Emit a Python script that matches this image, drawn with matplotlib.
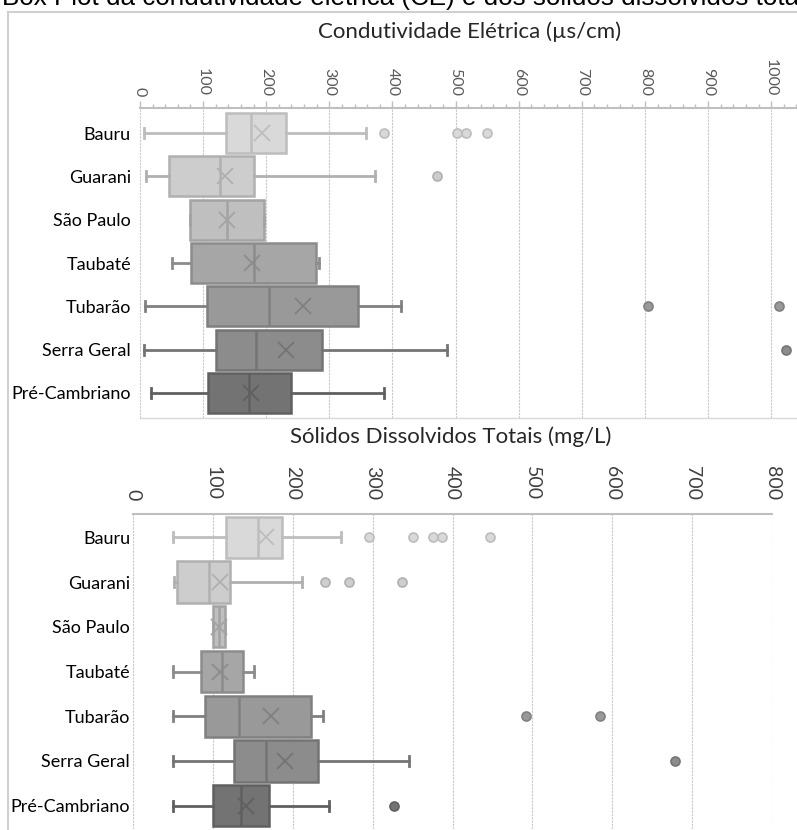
import matplotlib
matplotlib.use("Agg")
import matplotlib.pyplot as plt
from matplotlib.ticker import MultipleLocator
from matplotlib.lines import Line2D

categories = ['Bauru', 'Guarani', 'São Paulo', 'Taubaté', 'Tubarão', 'Serra Geral', 'Pré-Cambriano']

# Condutividade elétrica (µs/cm)
ce_min = [6, 9, 79, 51, 8, 6, 17]
ce_q1 = [136, 46, 79, 81, 106, 120, 107]
ce_med = [176, 127, 138, 181, 205, 184, 172]
ce_mean = [194, 135, 138, 178, 258, 231, 176]
ce_q3 = [232, 181, 197, 279, 346, 288, 240]
ce_max = [358, 372, 197, 284, 413, 486, 386]
ce_out = [[387, 502, 517, 550], [471], [], [], [805, 1012], [1024], []]

# Sólidos dissolvidos totais (mg/L)
std_min = [50, 51, 100, 50, 50, 50, 50]
std_q1 = [116, 55, 100, 85, 90, 126, 100]
std_med = [156, 95, 108, 112, 133, 166, 135]
std_mean = [166, 109, 107.5, 109, 173, 190, 141]
std_q3 = [187, 122, 115, 137.5, 222.5, 232, 170]
std_max = [260, 211, 115, 151, 238, 345, 245]
std_out = [[295, 350, 376, 387, 447], [240, 270, 337], [], [], [492, 585], [678], [327]]

fills = ['#d9d9d9', '#cdcdcd', '#bfbfbf', '#a6a6a6', '#999999', '#8c8c8c', '#737373']
edges = ['#bdbdbd', '#b0b0b0', '#a3a3a3', '#8c8c8c', '#808080', '#747474', '#606060']

W, H = 797, 830
FONT = 'Lato'


def make_stats(lo, q1, med, mean, q3, hi, out):
    stats = []
    for i, name in enumerate(categories):
        stats.append(dict(label=name, whislo=lo[i], q1=q1[i], med=med[i],
                          mean=mean[i], q3=q3[i], whishi=hi[i], fliers=out[i]))
    return stats


def draw(ax, stats, capw):
    r = ax.bxp(stats, positions=range(len(stats)), widths=0.92,
               orientation='horizontal', patch_artist=True, showmeans=True,
               capwidths=capw)
    for i in range(len(stats)):
        r['boxes'][i].set(facecolor=fills[i], edgecolor=edges[i], linewidth=1.8)
        r['medians'][i].set(color=edges[i], linewidth=1.8)
        for ln in r['whiskers'][2 * i:2 * i + 2] + r['caps'][2 * i:2 * i + 2]:
            ln.set(color=edges[i], linewidth=2)
        r['means'][i].set(marker='x', markersize=11, markeredgewidth=1.3,
                          markeredgecolor=edges[i], linestyle='none')
        r['fliers'][i].set(marker='o', markersize=6.5, markerfacecolor=fills[i],
                           markeredgecolor=edges[i], markeredgewidth=1.2)
    ax.set_yticks(range(len(stats)))
    ax.set_yticklabels(categories, fontsize=13, family=FONT, color='black')
    ax.grid(axis='x', which='major', color='#c8c8c8', linestyle=(0, (2, 1)), linewidth=0.8)
    ax.set_axisbelow(True)
    ax.xaxis.set_major_locator(MultipleLocator(100))
    ax.xaxis.tick_top()
    for s in ['left', 'right', 'bottom']:
        ax.spines[s].set_visible(False)
    ax.spines['top'].set(color='#bfbfbf', linewidth=1.5)


fig = plt.figure(figsize=(W / 100, H / 100), dpi=100)

# condutividade
ax1 = fig.add_axes([140 / W, 1 - 418 / H, (W - 140) / W, 310 / H])
draw(ax1, make_stats(ce_min, ce_q1, ce_med, ce_mean, ce_q3, ce_max, ce_out), 0.23)
ax1.set_xlim(0, 1041)
ax1.set_ylim(6.58, -0.58)
ax1.xaxis.set_minor_locator(MultipleLocator(20))
ax1.tick_params(axis='x', which='major', direction='out', length=5, width=1, color='#bfbfbf',
                pad=3.5, labelsize=11.5, labelcolor='#595959', labelrotation=-90)
ax1.tick_params(axis='x', which='minor', direction='out', length=3, width=1, color='#bfbfbf')
ax1.tick_params(axis='y', length=0, pad=6.5)
ax1.spines['bottom'].set_visible(True)
ax1.spines['bottom'].set(color='#d9d9d9', linewidth=1)
for t in ax1.get_xticklabels():
    t.set_family(FONT)

# sólidos dissolvidos
ax2 = fig.add_axes([133 / W, 1 - 829 / H, (772 - 133) / W, 315 / H])
draw(ax2, make_stats(std_min, std_q1, std_med, std_mean, std_q3, std_max, std_out), 0.23)
ax2.set_xlim(0, 800)
ax2.set_ylim(6.52, -0.52)
ax2.tick_params(axis='x', length=0, pad=10, labelsize=14, labelcolor='#404040', labelrotation=-90)
ax2.tick_params(axis='y', length=0, pad=2)
for t in ax2.get_xticklabels():
    t.set_family(FONT)

fig.text(470 / W, 1 - 32 / H, 'Condutividade Elétrica (µs/cm)', ha='center', va='center',
         fontsize=16, family=FONT, color='#262626')
fig.text(451 / W, 1 - 437 / H, 'Sólidos Dissolvidos Totais (mg/L)', ha='center', va='center',
         fontsize=16, family=FONT, color='#262626')
fig.text(2 / W, 1 - 5 / H, 'Box Plot da condutividade elétrica (CE) e dos sólidos dissolvidos totais',
         ha='left', va='baseline', fontsize=18.7, family='Liberation Sans', color='black')

# moldura do gráfico
fig.add_artist(Line2D([8 / W, 8 / W], [0, 1 - 12 / H], color='#d0d0d0', linewidth=1.5))
fig.add_artist(Line2D([8 / W, 1], [1 - 12 / H, 1 - 12 / H], color='#d0d0d0', linewidth=1.5))

fig.savefig('out.png', dpi=100)
plt.close()
